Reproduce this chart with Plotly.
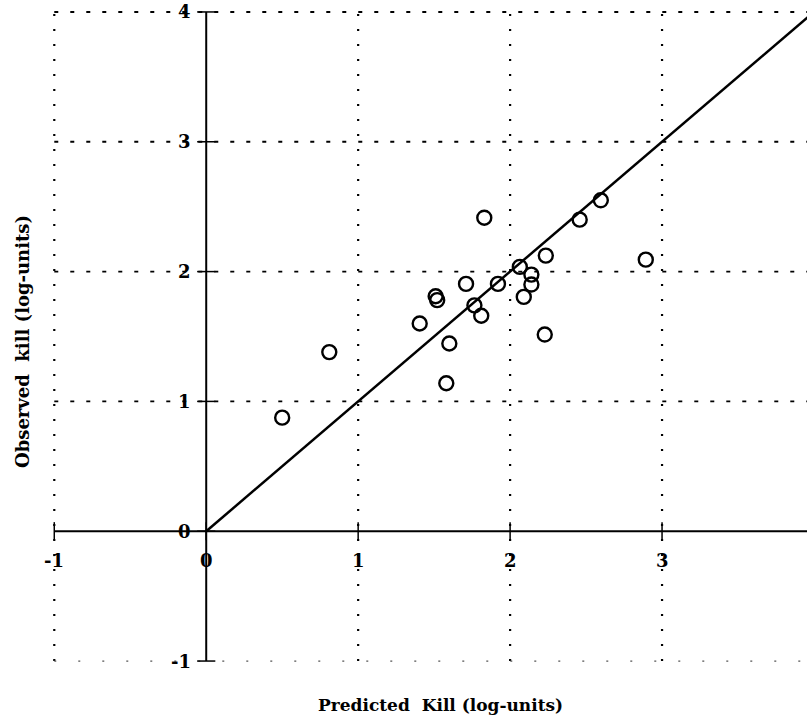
import plotly.graph_objects as go

# Predicted vs observed kill, in log-units
predicted = [0.50, 0.81, 1.405, 1.51, 1.52, 1.58, 1.60, 1.71, 1.765, 1.81, 1.83,
             1.92, 2.064, 2.09, 2.14, 2.14, 2.228, 2.235, 2.458, 2.597, 2.893]
observed = [0.875, 1.38, 1.60, 1.81, 1.78, 1.14, 1.446, 1.905, 1.74, 1.66, 2.415,
            1.905, 2.036, 1.805, 1.977, 1.90, 1.515, 2.123, 2.40, 2.549, 2.092]

x_ticks = [-1, 0, 1, 2, 3, 4]
y_ticks = [-1, 0, 1, 2, 3, 4]
identity = [0, 4]

x_range = [-1.015, 3.954]
y_range = [-1.015, 4.015]

FONT = "DejaVu Serif"
INK = "#000000"

fig = go.Figure()

# dotted grid at every non-zero unit
for t in x_ticks:
    if t == 0:
        continue
    fig.add_shape(type="line", xref="x", yref="y", x0=t, x1=t,
                  y0=y_ticks[0], y1=y_ticks[-1], layer="below",
                  line=dict(color=INK, width=2.2, dash="2px,13px"))
for t in y_ticks:
    if t == 0:
        continue
    faint = t == y_ticks[0]
    fig.add_shape(type="line", xref="x", yref="y", y0=t, y1=t,
                  x0=x_ticks[0], x1=x_ticks[-1], layer="below",
                  line=dict(color="#555555" if faint else INK,
                            width=1.3 if faint else 1.9,
                            dash="2px,22px" if faint else "4px,12px"))

# axes through the origin
fig.add_shape(type="line", x0=x_ticks[0], x1=x_ticks[-1], y0=0, y1=0,
              xref="x", yref="y", line=dict(color=INK, width=2))
fig.add_shape(type="line", x0=0, x1=0, y0=y_ticks[0], y1=y_ticks[-1],
              xref="x", yref="y", line=dict(color=INK, width=2))

# line of equality
fig.add_trace(go.Scatter(
    x=identity, y=identity, mode="lines",
    line=dict(color=INK, width=2.5), hoverinfo="skip", showlegend=False))

# tick marks crossing the zero axes
fig.add_trace(go.Scatter(
    x=x_ticks, y=[0] * len(x_ticks), mode="markers", cliponaxis=False,
    marker=dict(symbol="line-ns", size=13, line=dict(color=INK, width=1.5)),
    hoverinfo="skip", showlegend=False))
fig.add_trace(go.Scatter(
    x=[0] * len(y_ticks), y=y_ticks, mode="markers", cliponaxis=False,
    marker=dict(symbol="line-ew", size=13, line=dict(color=INK, width=1.5)),
    hoverinfo="skip", showlegend=False))

# observations
fig.add_trace(go.Scatter(
    x=predicted, y=observed, mode="markers",
    marker=dict(symbol="circle-open", size=14, color=INK, line=dict(width=2.4)),
    showlegend=False))

annotations = []
span = x_range[1] - x_range[0]
for t in x_ticks:
    annotations.append(dict(
        x=(t - x_range[0]) / span, y=0, xref="paper", yref="y",
        text="<b>%d</b>" % t, showarrow=False, xanchor="center", yanchor="middle",
        yshift=-29, font=dict(family=FONT, size=18, color=INK)))
for t in y_ticks:
    annotations.append(dict(
        x=0, y=t, xref="x", yref="y", text="<b>%d</b>" % t, showarrow=False,
        xanchor="right", yanchor="middle", xshift=-13,
        font=dict(family=FONT, size=18, color=INK)))

L, R, T, B = 52, 0, 10, 58
W, H = 807, 721
pw, ph = W - L - R, H - T - B

# axis titles, placed in pixel terms and converted to paper fractions
titles = [
    dict(px=440, py=705, text="<b>Predicted  Kill (log-units)</b>", angle=0, size=17),
    dict(px=22, py=342, text="<b>Observed  kill (log-units)</b>", angle=-90, size=18),
]
for tt in titles:
    annotations.append(dict(
        x=(tt["px"] - L) / pw, y=(H - tt["py"] - B) / ph,
        xref="paper", yref="paper", text=tt["text"], showarrow=False,
        textangle=tt["angle"], xanchor="center", yanchor="middle",
        font=dict(family=FONT, size=tt["size"], color=INK)))

axis = dict(showgrid=False, zeroline=False, showline=False,
            showticklabels=False, ticks="")

fig.update_layout(
    width=W, height=H,
    margin=dict(l=L, r=R, t=T, b=B),
    paper_bgcolor="white", plot_bgcolor="white",
    xaxis=dict(range=x_range, **axis),
    yaxis=dict(range=y_range, **axis),
    annotations=annotations,
)

fig.write_html("out.html")
